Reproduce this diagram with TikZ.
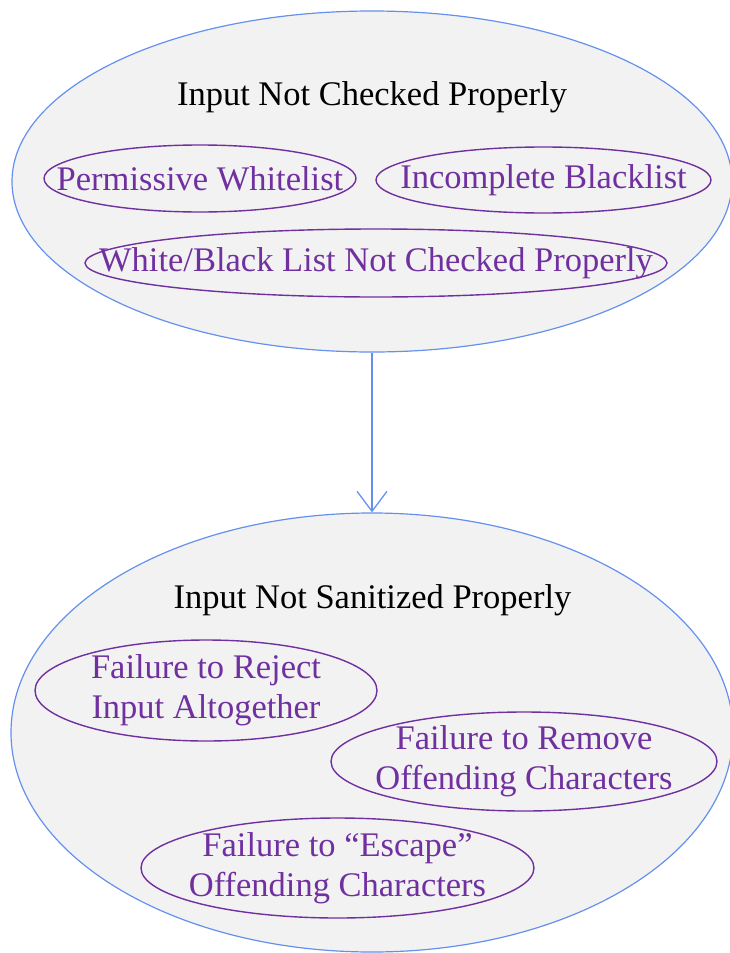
\documentclass[tikz,border=0pt]{standalone}
\usepackage{fontspec}
\setmainfont{Liberation Serif}
\usetikzlibrary{shapes.geometric,arrows.meta}
\definecolor{outerblue}{RGB}{100,145,238}
\definecolor{innerpurple}{RGB}{112,48,160}
\definecolor{lightfill}{RGB}{242,242,242}
\tikzset{
  bigell/.style={ellipse, draw=outerblue, fill=lightfill, line width=1.2pt, inner sep=0pt},
  smallell/.style={ellipse, draw=innerpurple, line width=1.4pt, inner sep=0pt,
    label={[text=innerpurple, align=center, inner sep=0pt, font=\fontsize{34.5}{40}\selectfont]center:#1}},
  titletext/.style={anchor=base, text=black, font=\fontsize{34.5}{40}\selectfont, inner sep=0pt},
  flow/.style={draw=outerblue, line width=1.3pt, -{Straight Barb[length=20pt,width=30pt,line width=1.3pt]}}
}
\begin{document}
\begin{tikzpicture}[x=1pt,y=-1pt]
\useasboundingbox (0,0) rectangle (730,953);
% top group
\node[bigell, minimum width=720pt, minimum height=341pt] (top) at (372,181.5) {};
\node[titletext] (toptitle) at (372,105) {Input Not Checked Properly};
\node[smallell={Permissive Whitelist}, minimum width=312pt, minimum height=67pt] (perm) at (200,178.5) {};
\node[smallell={Incomplete Blacklist}, minimum width=335pt, minimum height=66pt] (incomp) at (543.5,180) {};
\node[smallell={White/Black List Not Checked Properly}, minimum width=582pt, minimum height=68pt] (wbl) at (376,263) {};
% bottom group
\node[bigell, minimum width=722pt, minimum height=439pt] (bot) at (372,732.5) {};
\node[titletext] (bottitle) at (372.5,608) {Input Not Sanitized Properly};
\node[smallell={Failure to Reject\\Input Altogether}, minimum width=342pt, minimum height=101pt] (reject) at (206,690.5) {};
\node[smallell={Failure to Remove\\Offending Characters}, minimum width=386pt, minimum height=99pt] (remove) at (524,761.5) {};
\node[smallell={Failure to “Escape”\\Offending Characters}, minimum width=393pt, minimum height=100pt] (escape) at (337.5,868) {};
% connector
\draw[flow] (top.south) -- (bot.north);
\end{tikzpicture}
\end{document}
